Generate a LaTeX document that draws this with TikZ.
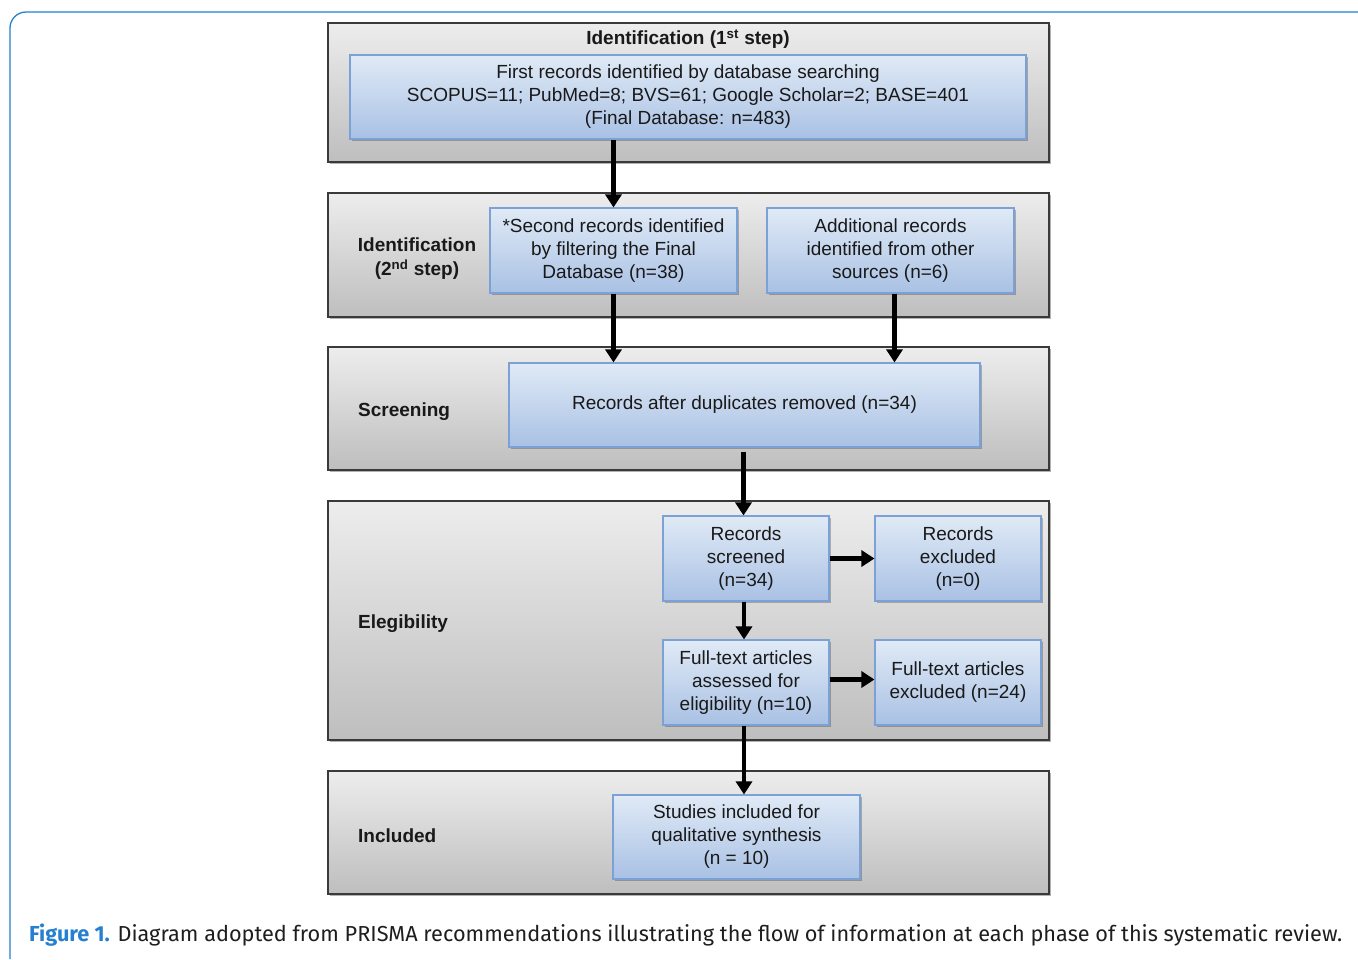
\documentclass[tikz,border=0pt]{standalone}
\usepackage{fontspec}
\setmainfont{Liberation Sans}
\newfontfamily\capfont{Fira Sans}
\usetikzlibrary{arrows.meta,shadows}
\definecolor{paneltop}{HTML}{EDEDED}
\definecolor{panelbot}{HTML}{BEBEBE}
\definecolor{panelline}{HTML}{3A3A3A}
\definecolor{boxtop}{HTML}{E0EAF6}
\definecolor{boxbot}{HTML}{A9C1E4}
\definecolor{boxline}{HTML}{7BA1D6}
\definecolor{frameblue}{HTML}{2580CF}
\definecolor{captxt}{HTML}{1E1E1E}
\begin{document}
\begin{tikzpicture}[x=1pt,y=-1pt,
  panel/.style={rectangle, draw=panelline, line width=1.3pt, top color=paneltop, bottom color=panelbot,
    inner sep=0pt, drop shadow={shadow xshift=2pt, shadow yshift=-2pt, opacity=0.3, fill=black}},
  bbox/.style={rectangle, draw=boxline, line width=1.1pt, top color=boxtop, bottom color=boxbot,
    align=center, inner sep=0pt, text=black!90, font=\fontsize{19}{23}\selectfont,
    drop shadow={shadow xshift=1.5pt, shadow yshift=-1.5pt, opacity=0.25, fill=black}},
  lab/.style={font=\bfseries\fontsize{19}{24}\selectfont, align=center, text=black!90, inner sep=0pt},
  arr/.style={line width=4.6pt, -{Triangle[width=16pt,length=13pt]}}]
\useasboundingbox (0,0) rectangle (1358,959);
% frame
\draw[frameblue, line width=1.3pt, rounded corners=16pt] (10,959) -- (10,12) -- (1358,12);
% panels
\node[panel, minimum width=721pt, minimum height=139pt] (p1) at (688.5,92.5) {};
\node[panel, minimum width=721pt, minimum height=124pt] (p2) at (688.5,255) {};
\node[panel, minimum width=721pt, minimum height=123pt] (p3) at (688.5,408.5) {};
\node[panel, minimum width=721pt, minimum height=239pt] (p4) at (688.5,620.5) {};
\node[panel, minimum width=721pt, minimum height=123pt] (p5) at (688.5,832.5) {};
% labels
\node[lab] (l1) at (688,39) {Identification (1\textsuperscript{st} step)};
\node[lab] (l2) at (417,259) {Identification\\(2\textsuperscript{nd} step)};
\node[lab, anchor=west] (l3) at (358,412) {Screening};
\node[lab, anchor=west] (l4) at (358,624) {Elegibility};
\node[lab, anchor=west] (l5) at (358,836) {Included};
% boxes
\node[bbox, minimum width=676pt, minimum height=84pt] (b1) at (688,97)
  {First records identified by database searching\\SCOPUS=11; PubMed=8; BVS=61; Google Scholar=2; BASE=401\\(Final Database: n=483)};
\node[bbox, minimum width=247pt, minimum height=85pt] (ba) at (613.5,250.5)
  {*Second records identified\\by filtering the Final\\Database (n=38)};
\node[bbox, minimum width=247pt, minimum height=85pt] (bb) at (890.5,250.5)
  {Additional records\\identified from other\\sources (n=6)};
\node[bbox, minimum width=471pt, minimum height=84pt] (scr) at (744.5,405)
  {Records after duplicates removed (n=34)};
\node[bbox, minimum width=166pt, minimum height=85pt] (scd) at (746,558.5)
  {Records\\screened\\(n=34)};
\node[bbox, minimum width=166pt, minimum height=85pt] (exc) at (958,558.5)
  {Records\\excluded\\(n=0)};
\node[bbox, minimum width=166pt, minimum height=85pt] (ft) at (746,682.5)
  {Full-text articles\\assessed for\\eligibility (n=10)};
\node[bbox, minimum width=166pt, minimum height=85pt] (fte) at (958,682.5)
  {Full-text articles\\excluded (n=24)};
\node[bbox, minimum width=247pt, minimum height=84pt] (inc) at (736.5,837)
  {Studies included for\\qualitative synthesis\\(n = 10)};
% arrows
\draw[arr] (ba.north |- b1.south) -- (ba.north);
\draw[arr] (ba.south) -- (ba.south |- scr.north);
\draw[arr] ([xshift=4pt]bb.south) -- ([xshift=4pt]bb.south |- scr.north);
\draw[arr] ([xshift=-1pt,yshift=-4pt]scr.south) -- ([xshift=-1pt]scr.south |- scd.north);
\draw[arr] (scd.east) -- (exc.west);
\draw[arr] ([xshift=-2pt]scd.south) -- ([xshift=-2pt]ft.north);
\draw[arr] ([yshift=3pt]ft.east) -- ([yshift=3pt]fte.west);
\draw[arr] ([xshift=-2pt]ft.south) -- ([xshift=-2pt]ft.south |- inc.north);
% caption
\node[anchor=base west, inner sep=0pt, font=\capfont\fontsize{21.7}{25}\selectfont, text=captxt] (cap) at (29,941)
  {\textcolor{frameblue}{\bfseries Figure 1.} Diagram adopted from PRISMA recommendations illustrating the flow of information at each phase of this systematic review.};
\end{tikzpicture}
\end{document}
